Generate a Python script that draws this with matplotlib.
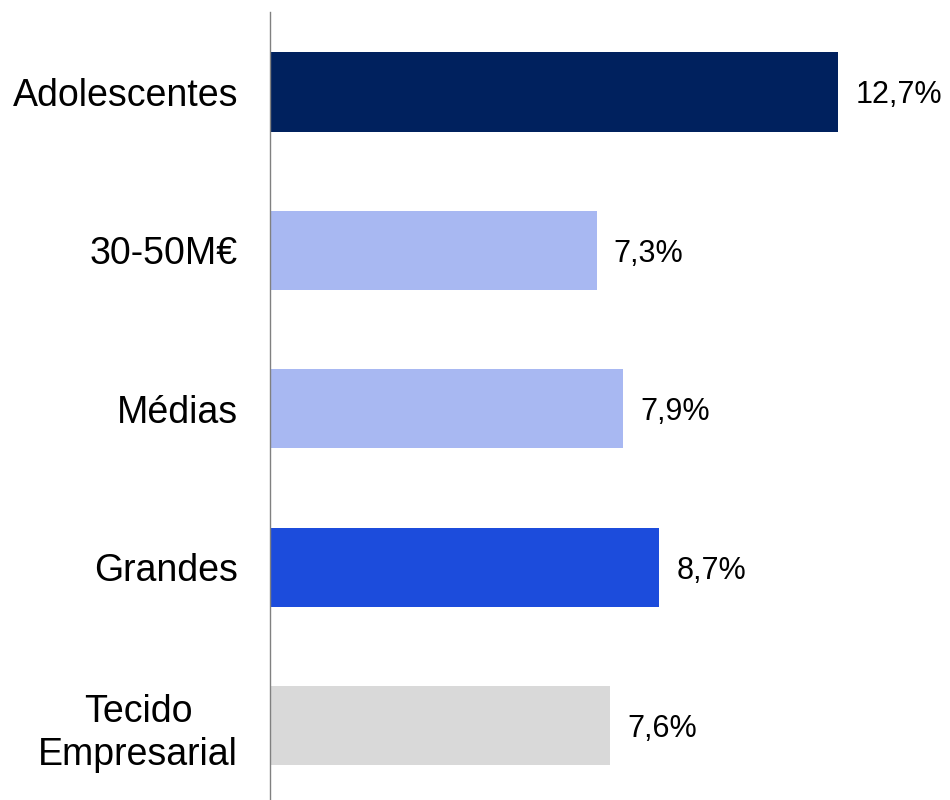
import matplotlib.pyplot as plt

plt.rcParams['font.family'] = ['Liberation Sans', 'DejaVu Sans']

# Data
categories = ["Adolescentes", "30-50M€", "Médias", "Grandes", "Tecido\nEmpresarial"]
values = [12.7, 7.3, 7.9, 8.7, 7.6]
labels = ["12,7%", "7,3%", "7,9%", "8,7%", "7,6%"]
colors = ["#00215E", "#A8B8F2", "#A8B8F2", "#1C4CDC", "#D9D9D9"]

fig = plt.figure(figsize=(9.5, 8), dpi=100)
ax = fig.add_axes([270 / 950, 0, 1 - 270 / 950, 788 / 800])

y = list(range(len(categories)))
bars = ax.barh(y, values, height=0.5, color=colors)

for b, lab in zip(bars, labels):
    ax.annotate(lab, (b.get_width(), b.get_y() + b.get_height() / 2),
                xytext=(17, 0), textcoords="offset pixels",
                va="center_baseline", ha="left", fontsize=22)

ax.set_xlim(0, 15.2)
ax.set_ylim(4.47, -0.505)
ax.set_yticks(y)
ax.set_yticklabels(categories, fontsize=27, linespacing=1.25)
for t in ax.get_yticklabels():
    t.set_multialignment("center")
ax.tick_params(axis="y", length=0, pad=23)
ax.set_xticks([])

for s in ["top", "right", "bottom"]:
    ax.spines[s].set_visible(False)
ax.spines["left"].set_color("#808080")
ax.spines["left"].set_linewidth(1)

fig.savefig("out.png", dpi=100)
